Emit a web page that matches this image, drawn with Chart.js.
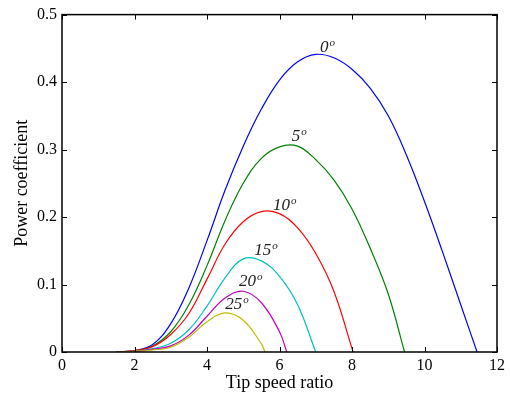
<!DOCTYPE html>
<html>
<head>
<meta charset="utf-8">
<script src="https://cdn.jsdelivr.net/npm/chart.js@4.4.1/dist/chart.umd.min.js"></script>
<style>
  html, body { margin: 0; padding: 0; background: #fff; }
  canvas { display: block; }
</style>
</head>
<body>
<canvas id="myChart" width="510" height="399"></canvas>
<script>
// pitch angles and curves (tip speed ratio -> power coefficient)
const pitchAngles = ['0', '5', '10', '15', '20', '25'];

const tsr0 = [1.5, 2, 2.5, 3, 3.5, 4, 4.5, 5, 5.5, 6, 6.5, 7, 7.5, 8, 8.5, 9, 9.5, 10, 10.5, 11, 11.45];
const cp0  = [0, 0.002, 0.011, 0.042, 0.095, 0.165, 0.240, 0.305, 0.360, 0.403, 0.430, 0.441, 0.436, 0.419, 0.391, 0.350, 0.292, 0.223, 0.148, 0.070, 0];

const tsr5 = [1.5, 2, 2.5, 3, 3.5, 4, 4.5, 5, 5.5, 6, 6.5, 7, 7.5, 8, 8.5, 9, 9.45];
const cp5  = [0, 0.002, 0.009, 0.030, 0.070, 0.128, 0.195, 0.250, 0.287, 0.304, 0.305, 0.285, 0.255, 0.212, 0.154, 0.086, 0];

const tsr10 = [1.5, 2, 2.5, 3, 3.5, 4, 4.5, 5, 5.5, 6, 6.5, 7, 7.5, 8.03];
const cp10  = [0, 0.002, 0.008, 0.026, 0.057, 0.108, 0.160, 0.193, 0.208, 0.205, 0.184, 0.146, 0.090, 0];

const tsr15 = [1.5, 2, 2.5, 3, 3.5, 4, 4.5, 5, 5.5, 6, 6.5, 7];
const cp15  = [0, 0.001, 0.005, 0.013, 0.033, 0.068, 0.110, 0.138, 0.135, 0.112, 0.070, 0];

const tsr20 = [1.5, 2, 2.5, 3, 3.5, 4, 4.5, 5, 5.5, 6, 6.2];
const cp20  = [0, 0.001, 0.004, 0.009, 0.025, 0.053, 0.080, 0.090, 0.073, 0.030, 0];

const tsr25 = [1.5, 2, 2.5, 3, 3.5, 4, 4.5, 5, 5.5, 5.6];
const cp25  = [0, 0.001, 0.003, 0.007, 0.022, 0.045, 0.058, 0.047, 0.012, 0];

const xTicks = [0, 2, 4, 6, 8, 10, 12];
const yTicks = [0, 0.1, 0.2, 0.3, 0.4, 0.5];

// where each angle label sits (data units, left/baseline of the text)
const labelX = [7.12, 6.34, 5.82, 5.30, 4.88, 4.50];
const labelY = [0.445, 0.313, 0.211, 0.144, 0.098, 0.063];

const colors = ['#0000ff', '#008000', '#ff0000', '#00bfbf', '#bf00bf', '#bfbf00'];
const series = [[tsr0, cp0], [tsr5, cp5], [tsr10, cp10], [tsr15, cp15], [tsr20, cp20], [tsr25, cp25]];

const serif = "'Liberation Serif', 'Times New Roman', serif";

// MATLAB style box with inward ticks on all four sides
const boxPlugin = {
    id: 'box',
    afterDraw(chart) {
        const { ctx, chartArea: a, scales } = chart;
        ctx.save();
        ctx.strokeStyle = '#000';
        ctx.lineWidth = 1;
        ctx.beginPath();
        xTicks.forEach(v => {
            const px = Math.round(scales.x.getPixelForValue(v)) + 0.5;
            ctx.moveTo(px, a.bottom); ctx.lineTo(px, a.bottom - 5);
            ctx.moveTo(px, a.top); ctx.lineTo(px, a.top + 5);
        });
        yTicks.forEach(v => {
            const py = Math.round(scales.y.getPixelForValue(v)) + 0.5;
            ctx.moveTo(a.left, py); ctx.lineTo(a.left + 5, py);
            ctx.moveTo(a.right, py); ctx.lineTo(a.right - 5, py);
        });
        ctx.stroke();
        ctx.lineWidth = 1.5;
        ctx.strokeRect(a.left, a.top, a.right - a.left, a.bottom - a.top);
        ctx.restore();
    }
};

const angleLabels = {
    id: 'angleLabels',
    afterDatasetsDraw(chart) {
        const { ctx, scales } = chart;
        ctx.save();
        ctx.fillStyle = '#222';
        ctx.textBaseline = 'alphabetic';
        ctx.textAlign = 'left';
        pitchAngles.forEach((t, i) => {
            const px = scales.x.getPixelForValue(labelX[i]);
            const py = scales.y.getPixelForValue(labelY[i]);
            ctx.font = 'italic 17px ' + serif;
            ctx.fillText(t, px, py);
            const w = ctx.measureText(t).width;
            ctx.font = 'italic 11px ' + serif;
            ctx.fillText('o', px + w + 1, py - 6);
        });
        ctx.restore();
    }
};

const ctx = document.getElementById('myChart').getContext('2d');
const myChart = new Chart(ctx, {
    type: 'line',
    data: {
        datasets: series.map((s, i) => ({
            label: pitchAngles[i] + 'º',
            data: s[0].map((x, j) => ({ x: x, y: s[1][j] })),
            borderColor: colors[i],
            borderWidth: 1.2,
            pointRadius: 0,
            fill: false,
            tension: 0.4,
            order: 6 - i
        }))
    },
    options: {
        responsive: false,
        animation: false,
        layout: { padding: { left: 0, right: 13, top: 9, bottom: 0 } },
        plugins: {
            legend: { display: false },
            tooltip: { enabled: false }
        },
        scales: {
            x: {
                type: 'linear',
                min: 0,
                max: 12,
                afterFit(scale) { scale.height = 47; },
                afterBuildTicks(scale) { scale.ticks = xTicks.map(v => ({ value: v })); },
                grid: { display: false, drawTicks: false },
                border: { display: false },
                ticks: { color: '#000', padding: 4, font: { family: serif, size: 16 }, maxRotation: 0 },
                title: {
                    display: true,
                    text: 'Tip speed ratio',
                    color: '#000',
                    font: { family: serif, size: 18 },
                    padding: { top: 0, bottom: 5 }
                }
            },
            y: {
                type: 'linear',
                min: 0,
                max: 0.5,
                afterFit(scale) { scale.width = 62; },
                afterBuildTicks(scale) { scale.ticks = yTicks.map(v => ({ value: v })); },
                grid: { display: false, drawTicks: false },
                border: { display: false },
                ticks: { color: '#000', padding: 5, font: { family: serif, size: 16 } },
                title: {
                    display: true,
                    text: 'Power coefficient',
                    color: '#000',
                    font: { family: serif, size: 18 },
                    padding: { top: 11, bottom: 0 }
                }
            }
        }
    },
    plugins: [boxPlugin, angleLabels]
});
</script>
</body>
</html>
